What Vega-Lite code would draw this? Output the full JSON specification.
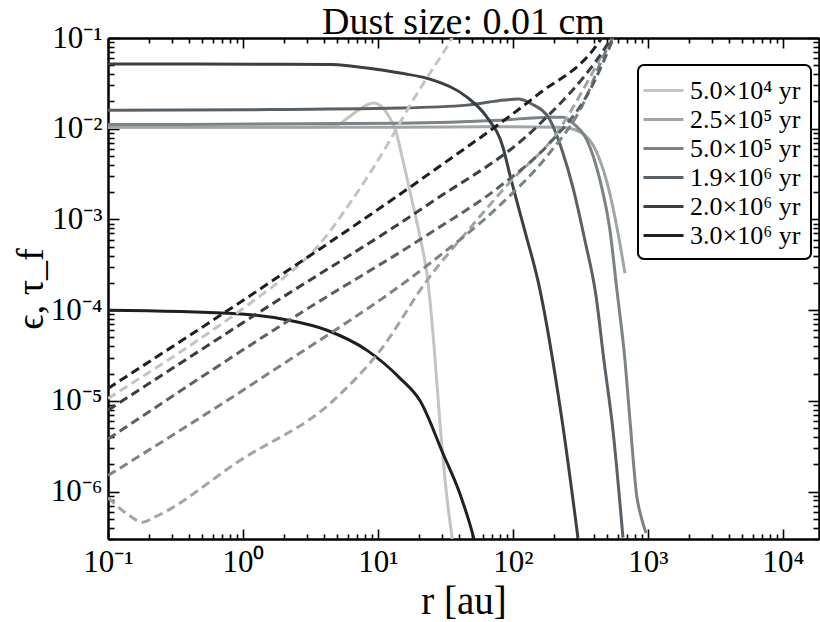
{
  "$schema": "https://vega.github.io/schema/vega-lite/v6.json",
  "width": 711,
  "height": 501,
  "autosize": {"type": "none"},
  "padding": {"left": 108, "top": 38, "right": 1, "bottom": 83},
  "background": "white",
  "title": {"text": "Dust size: 0.01 cm", "fontSize": 38, "font": "Liberation Serif", "fontWeight": "normal", "color": "black", "offset": 6, "dy": 26, "frame": "group", "anchor": "middle"},
  "config": {"font": "Liberation Serif", "view": {"stroke": null}, "axis": {"labelFont": "Liberation Serif", "titleFont": "Liberation Serif"}},
  "datasets": {
    "d": [
      {"t":"5.0×10⁴ yr","q":"e","r":0.1,"v":0.0104},
      {"t":"5.0×10⁴ yr","q":"e","r":1,"v":0.0104},
      {"t":"5.0×10⁴ yr","q":"e","r":3,"v":0.0104},
      {"t":"5.0×10⁴ yr","q":"e","r":4.5,"v":0.0106},
      {"t":"5.0×10⁴ yr","q":"e","r":5.2,"v":0.0113},
      {"t":"5.0×10⁴ yr","q":"e","r":6,"v":0.0132},
      {"t":"5.0×10⁴ yr","q":"e","r":7.5,"v":0.0168},
      {"t":"5.0×10⁴ yr","q":"e","r":8.5,"v":0.0186},
      {"t":"5.0×10⁴ yr","q":"e","r":9.3,"v":0.0192},
      {"t":"5.0×10⁴ yr","q":"e","r":10.5,"v":0.0178},
      {"t":"5.0×10⁴ yr","q":"e","r":12,"v":0.0138},
      {"t":"5.0×10⁴ yr","q":"e","r":13.5,"v":0.0096},
      {"t":"5.0×10⁴ yr","q":"e","r":15,"v":0.0051},
      {"t":"5.0×10⁴ yr","q":"e","r":17.5,"v":0.00185},
      {"t":"5.0×10⁴ yr","q":"e","r":20.5,"v":0.00064},
      {"t":"5.0×10⁴ yr","q":"e","r":23.4,"v":0.000213},
      {"t":"5.0×10⁴ yr","q":"e","r":26,"v":0.000041},
      {"t":"5.0×10⁴ yr","q":"e","r":28.8,"v":0.0000056},
      {"t":"5.0×10⁴ yr","q":"e","r":32,"v":0.00000103},
      {"t":"5.0×10⁴ yr","q":"e","r":36,"v":0.00000026},

      {"t":"2.5×10⁵ yr","q":"e","r":0.1,"v":0.0104},
      {"t":"2.5×10⁵ yr","q":"e","r":10,"v":0.0104},
      {"t":"2.5×10⁵ yr","q":"e","r":100,"v":0.0105},
      {"t":"2.5×10⁵ yr","q":"e","r":223,"v":0.0104},
      {"t":"2.5×10⁵ yr","q":"e","r":278,"v":0.0099},
      {"t":"2.5×10⁵ yr","q":"e","r":341,"v":0.0085},
      {"t":"2.5×10⁵ yr","q":"e","r":392,"v":0.0066},
      {"t":"2.5×10⁵ yr","q":"e","r":441,"v":0.0045},
      {"t":"2.5×10⁵ yr","q":"e","r":497,"v":0.00258},
      {"t":"2.5×10⁵ yr","q":"e","r":589,"v":0.00082},
      {"t":"2.5×10⁵ yr","q":"e","r":676,"v":0.000255},

      {"t":"5.0×10⁵ yr","q":"e","r":0.1,"v":0.0111},
      {"t":"5.0×10⁵ yr","q":"e","r":14.6,"v":0.0115},
      {"t":"5.0×10⁵ yr","q":"e","r":80,"v":0.0124},
      {"t":"5.0×10⁵ yr","q":"e","r":188,"v":0.0134},
      {"t":"5.0×10⁵ yr","q":"e","r":234,"v":0.0134},
      {"t":"5.0×10⁵ yr","q":"e","r":288,"v":0.011},
      {"t":"5.0×10⁵ yr","q":"e","r":353,"v":0.0075},
      {"t":"5.0×10⁵ yr","q":"e","r":441,"v":0.00271},
      {"t":"5.0×10⁵ yr","q":"e","r":523,"v":0.00076},
      {"t":"5.0×10⁵ yr","q":"e","r":589,"v":0.000166},
      {"t":"5.0×10⁵ yr","q":"e","r":676,"v":0.0000279},
      {"t":"5.0×10⁵ yr","q":"e","r":736,"v":0.0000061},
      {"t":"5.0×10⁵ yr","q":"e","r":829,"v":0.00000086},
      {"t":"5.0×10⁵ yr","q":"e","r":887,"v":0.00000054},
      {"t":"5.0×10⁵ yr","q":"e","r":967,"v":0.00000035},

      {"t":"1.9×10⁶ yr","q":"e","r":0.1,"v":0.016},
      {"t":"1.9×10⁶ yr","q":"e","r":1.13,"v":0.0162},
      {"t":"1.9×10⁶ yr","q":"e","r":14.6,"v":0.0169},
      {"t":"1.9×10⁶ yr","q":"e","r":45.6,"v":0.0182},
      {"t":"1.9×10⁶ yr","q":"e","r":87,"v":0.0207},
      {"t":"1.9×10⁶ yr","q":"e","r":109,"v":0.0212},
      {"t":"1.9×10⁶ yr","q":"e","r":138,"v":0.0187},
      {"t":"1.9×10⁶ yr","q":"e","r":188,"v":0.0125},
      {"t":"1.9×10⁶ yr","q":"e","r":231,"v":0.0058},
      {"t":"1.9×10⁶ yr","q":"e","r":278,"v":0.00226},
      {"t":"1.9×10⁶ yr","q":"e","r":341,"v":0.00059},
      {"t":"1.9×10⁶ yr","q":"e","r":412,"v":0.000145},
      {"t":"1.9×10⁶ yr","q":"e","r":472,"v":0.0000279},
      {"t":"1.9×10⁶ yr","q":"e","r":551,"v":0.0000047},
      {"t":"1.9×10⁶ yr","q":"e","r":653,"v":0.00000031},

      {"t":"2.0×10⁶ yr","q":"e","r":0.1,"v":0.0516},
      {"t":"2.0×10⁶ yr","q":"e","r":2,"v":0.0515},
      {"t":"2.0×10⁶ yr","q":"e","r":4.6,"v":0.051},
      {"t":"2.0×10⁶ yr","q":"e","r":8,"v":0.047},
      {"t":"2.0×10⁶ yr","q":"e","r":14.6,"v":0.0411},
      {"t":"2.0×10⁶ yr","q":"e","r":25.5,"v":0.0344},
      {"t":"2.0×10⁶ yr","q":"e","r":45.6,"v":0.0223},
      {"t":"2.0×10⁶ yr","q":"e","r":64.1,"v":0.0134},
      {"t":"2.0×10⁶ yr","q":"e","r":84.3,"v":0.00627},
      {"t":"2.0×10⁶ yr","q":"e","r":95,"v":0.00307},
      {"t":"2.0×10⁶ yr","q":"e","r":122.7,"v":0.00074},
      {"t":"2.0×10⁶ yr","q":"e","r":155,"v":0.000195},
      {"t":"2.0×10⁶ yr","q":"e","r":231,"v":0.0000061},
      {"t":"2.0×10⁶ yr","q":"e","r":303,"v":0.00000031},

      {"t":"3.0×10⁶ yr","q":"e","r":0.1,"v":0.0001},
      {"t":"3.0×10⁶ yr","q":"e","r":0.84,"v":0.000092},
      {"t":"3.0×10⁶ yr","q":"e","r":2.12,"v":0.000078},
      {"t":"3.0×10⁶ yr","q":"e","r":4.19,"v":0.00006},
      {"t":"3.0×10⁶ yr","q":"e","r":8.3,"v":0.000036},
      {"t":"3.0×10⁶ yr","q":"e","r":14.6,"v":0.0000177},
      {"t":"3.0×10⁶ yr","q":"e","r":20.5,"v":0.00001},
      {"t":"3.0×10⁶ yr","q":"e","r":30.3,"v":0.00000263},
      {"t":"3.0×10⁶ yr","q":"e","r":40.4,"v":0.00000095},
      {"t":"3.0×10⁶ yr","q":"e","r":51.4,"v":0.0000003},
      {"t":"3.0×10⁶ yr","q":"e","r":54,"v":0.00000022},

      {"t":"5.0×10⁴ yr","q":"t","r":0.1,"v":0.0000106},
      {"t":"5.0×10⁴ yr","q":"t","r":1.13,"v":0.000119},
      {"t":"5.0×10⁴ yr","q":"t","r":1.98,"v":0.000224},
      {"t":"5.0×10⁴ yr","q":"t","r":3.53,"v":0.000493},
      {"t":"5.0×10⁴ yr","q":"t","r":6.2,"v":0.00151},
      {"t":"5.0×10⁴ yr","q":"t","r":12.3,"v":0.00748},
      {"t":"5.0×10⁴ yr","q":"t","r":18.2,"v":0.0207},
      {"t":"5.0×10⁴ yr","q":"t","r":24.3,"v":0.0411},
      {"t":"5.0×10⁴ yr","q":"t","r":33,"v":0.0837},
      {"t":"5.0×10⁴ yr","q":"t","r":37.2,"v":0.114},

      {"t":"2.5×10⁵ yr","q":"t","r":0.1,"v":0.00000086},
      {"t":"2.5×10⁵ yr","q":"t","r":0.14,"v":0.00000056},
      {"t":"2.5×10⁵ yr","q":"t","r":0.18,"v":0.00000046},
      {"t":"2.5×10⁵ yr","q":"t","r":0.22,"v":0.00000052},
      {"t":"2.5×10⁵ yr","q":"t","r":0.95,"v":0.0000022},
      {"t":"2.5×10⁵ yr","q":"t","r":4.64,"v":0.00001},
      {"t":"2.5×10⁵ yr","q":"t","r":10.4,"v":0.000036},
      {"t":"2.5×10⁵ yr","q":"t","r":23.1,"v":0.000213},
      {"t":"2.5×10⁵ yr","q":"t","r":48,"v":0.0008},
      {"t":"2.5×10⁵ yr","q":"t","r":95,"v":0.00258},
      {"t":"2.5×10⁵ yr","q":"t","r":212,"v":0.009},
      {"t":"2.5×10⁵ yr","q":"t","r":353,"v":0.032},
      {"t":"2.5×10⁵ yr","q":"t","r":541,"v":0.105},

      {"t":"5.0×10⁵ yr","q":"t","r":0.1,"v":0.0000015},
      {"t":"5.0×10⁵ yr","q":"t","r":1.585,"v":0.0000205},
      {"t":"5.0×10⁵ yr","q":"t","r":24.3,"v":0.000329},
      {"t":"5.0×10⁵ yr","q":"t","r":80.2,"v":0.00144},
      {"t":"5.0×10⁵ yr","q":"t","r":179,"v":0.005},
      {"t":"5.0×10⁵ yr","q":"t","r":313,"v":0.016},
      {"t":"5.0×10⁵ yr","q":"t","r":523,"v":0.088},
      {"t":"5.0×10⁵ yr","q":"t","r":560,"v":0.105},

      {"t":"1.9×10⁶ yr","q":"t","r":0.1,"v":0.0000038},
      {"t":"1.9×10⁶ yr","q":"t","r":2.64,"v":0.000092},
      {"t":"1.9×10⁶ yr","q":"t","r":24.3,"v":0.000705},
      {"t":"1.9×10⁶ yr","q":"t","r":80.2,"v":0.00232},
      {"t":"1.9×10⁶ yr","q":"t","r":188,"v":0.007},
      {"t":"1.9×10⁶ yr","q":"t","r":372,"v":0.0267},
      {"t":"1.9×10⁶ yr","q":"t","r":570,"v":0.11},

      {"t":"2.0×10⁶ yr","q":"t","r":0.1,"v":0.0000079},
      {"t":"2.0×10⁶ yr","q":"t","r":1.585,"v":0.000113},
      {"t":"2.0×10⁶ yr","q":"t","r":24.3,"v":0.00151},
      {"t":"2.0×10⁶ yr","q":"t","r":150,"v":0.0105},
      {"t":"2.0×10⁶ yr","q":"t","r":427,"v":0.06},
      {"t":"2.0×10⁶ yr","q":"t","r":560,"v":0.11},

      {"t":"3.0×10⁶ yr","q":"t","r":0.1,"v":0.0000137},
      {"t":"3.0×10⁶ yr","q":"t","r":1.67,"v":0.000213},
      {"t":"3.0×10⁶ yr","q":"t","r":24.3,"v":0.00324},
      {"t":"3.0×10⁶ yr","q":"t","r":151,"v":0.0235},
      {"t":"3.0×10⁶ yr","q":"t","r":419,"v":0.084},
      {"t":"3.0×10⁶ yr","q":"t","r":464,"v":0.105}
    ]
  },
  "data": {"name": "d"},
  "layer": [
    {
      "transform": [{"filter": "datum.q === 'e'"}],
      "mark": {"type": "line", "strokeWidth": 3, "clip": true, "interpolate": "monotone"},
      "encoding": {
        "x": {
          "field": "r", "type": "quantitative",
          "scale": {"type": "log", "domain": [0.1, 18500], "nice": false},
          "axis": {
            "orient": "bottom",
            "values": [0.1,0.2,0.3,0.4,0.5,0.6,0.7,0.8,0.9,1,2,3,4,5,6,7,8,9,10,20,30,40,50,60,70,80,90,100,200,300,400,500,600,700,800,900,1000,2000,3000,4000,5000,6000,7000,8000,9000,10000],
            "labelExpr": "abs(log(datum.value)/LN10-round(log(datum.value)/LN10))<0.001 ? ['10⁻¹','10⁰','10¹','10²','10³','10⁴'][round(log(datum.value)/LN10)+1] : ''",
            "labelOverlap": false, "labelFlush": false,
            "labelFontSize": 31, "labelColor": "black", "labelFont": "Liberation Serif",
            "labelPadding": 18,
            "tickSize": {"condition": {"test": "abs(log(datum.value)/LN10-round(log(datum.value)/LN10))<0.001", "value": -10}, "value": -5},
            "tickColor": "black", "tickWidth": 1.6,
            "domainColor": "black", "domainWidth": 2.5,
            "grid": false,
            "title": "r [au]", "titleFontSize": 39, "titleFontWeight": "normal", "titleColor": "black", "titleFont": "Liberation Serif", "titlePadding": 0
          }
        },
        "y": {
          "field": "v", "type": "quantitative",
          "scale": {"type": "log", "domain": [3e-7, 0.1], "nice": false},
          "axis": {
            "orient": "left",
            "values": [3e-7,4e-7,5e-7,6e-7,7e-7,8e-7,9e-7,1e-6,2e-6,3e-6,4e-6,5e-6,6e-6,7e-6,8e-6,9e-6,1e-5,2e-5,3e-5,4e-5,5e-5,6e-5,7e-5,8e-5,9e-5,1e-4,2e-4,3e-4,4e-4,5e-4,6e-4,7e-4,8e-4,9e-4,0.001,0.002,0.003,0.004,0.005,0.006,0.007,0.008,0.009,0.01,0.02,0.03,0.04,0.05,0.06,0.07,0.08,0.09,0.1],
            "labelExpr": "abs(log(datum.value)/LN10-round(log(datum.value)/LN10))<0.001 ? ['10⁻⁶','10⁻⁵','10⁻⁴','10⁻³','10⁻²','10⁻¹'][round(log(datum.value)/LN10)+6] : ''",
            "labelOverlap": false, "labelFlush": false,
            "labelFontSize": 31, "labelColor": "black", "labelFont": "Liberation Serif",
            "labelPadding": 17, "labelBaseline": "middle",
            "tickSize": {"condition": {"test": "abs(log(datum.value)/LN10-round(log(datum.value)/LN10))<0.001", "value": -11}, "value": -6},
            "tickColor": "black", "tickWidth": 1.6,
            "domainColor": "black", "domainWidth": 2.5,
            "grid": false,
            "title": "ϵ, τ_f", "titleFontSize": 38, "titleFontWeight": "normal", "titleColor": "black", "titleFont": "Liberation Serif", "titlePadding": 0
          }
        },
        "color": {
          "field": "t", "type": "nominal",
          "scale": {"domain": ["5.0×10⁴ yr","2.5×10⁵ yr","5.0×10⁵ yr","1.9×10⁶ yr","2.0×10⁶ yr","3.0×10⁶ yr"], "range": ["#c4c5c1","#a2a5a6","#7c8387","#5a6166","#3a3f43","#1e1f21"]},
          "legend": {
            "orient": "none", "legendX": 530, "legendY": 27, "title": null,
            "symbolType": "M-1.43,0H1.43", "symbolSize": 784, "symbolStrokeWidth": 3,
            "labelFontSize": 26, "labelColor": "black", "labelFont": "Liberation Serif", "labelOffset": 11,
            "strokeColor": "black", "cornerRadius": 6, "fillColor": "white",
            "padding": 10, "rowPadding": 0,
            "encode": {"legend": {"update": {"strokeWidth": {"value": 2}}}}
          }
        }
      }
    },
    {
      "transform": [{"filter": "datum.q === 't'"}],
      "mark": {"type": "line", "strokeWidth": 3, "strokeDash": [9, 5], "clip": true, "interpolate": "monotone"},
      "encoding": {
        "x": {
          "field": "r", "type": "quantitative",
          "scale": {"type": "log", "domain": [0.1, 18500], "nice": false},
          "axis": {
            "orient": "top",
            "values": [0.1,0.2,0.3,0.4,0.5,0.6,0.7,0.8,0.9,1,2,3,4,5,6,7,8,9,10,20,30,40,50,60,70,80,90,100,200,300,400,500,600,700,800,900,1000,2000,3000,4000,5000,6000,7000,8000,9000,10000],
            "labels": false, "title": null,
            "tickSize": {"condition": {"test": "abs(log(datum.value)/LN10-round(log(datum.value)/LN10))<0.001", "value": -10}, "value": -5},
            "tickColor": "black", "tickWidth": 1.6,
            "domainColor": "black", "domainWidth": 2.5,
            "grid": false
          }
        },
        "y": {
          "field": "v", "type": "quantitative",
          "scale": {"type": "log", "domain": [3e-7, 0.1], "nice": false},
          "axis": {
            "orient": "right",
            "values": [3e-7,4e-7,5e-7,6e-7,7e-7,8e-7,9e-7,1e-6,2e-6,3e-6,4e-6,5e-6,6e-6,7e-6,8e-6,9e-6,1e-5,2e-5,3e-5,4e-5,5e-5,6e-5,7e-5,8e-5,9e-5,1e-4,2e-4,3e-4,4e-4,5e-4,6e-4,7e-4,8e-4,9e-4,0.001,0.002,0.003,0.004,0.005,0.006,0.007,0.008,0.009,0.01,0.02,0.03,0.04,0.05,0.06,0.07,0.08,0.09,0.1],
            "labels": false, "title": null,
            "tickSize": {"condition": {"test": "abs(log(datum.value)/LN10-round(log(datum.value)/LN10))<0.001", "value": -11}, "value": -6},
            "tickColor": "black", "tickWidth": 1.6,
            "domainColor": "black", "domainWidth": 2.5,
            "grid": false
          }
        },
        "color": {
          "field": "t", "type": "nominal",
          "scale": {"domain": ["5.0×10⁴ yr","2.5×10⁵ yr","5.0×10⁵ yr","1.9×10⁶ yr","2.0×10⁶ yr","3.0×10⁶ yr"], "range": ["#c4c5c1","#a2a5a6","#7c8387","#5a6166","#3a3f43","#1e1f21"]},
          "legend": null
        }
      }
    }
  ],
  "resolve": {"axis": {"x": "independent", "y": "independent"}}
}
